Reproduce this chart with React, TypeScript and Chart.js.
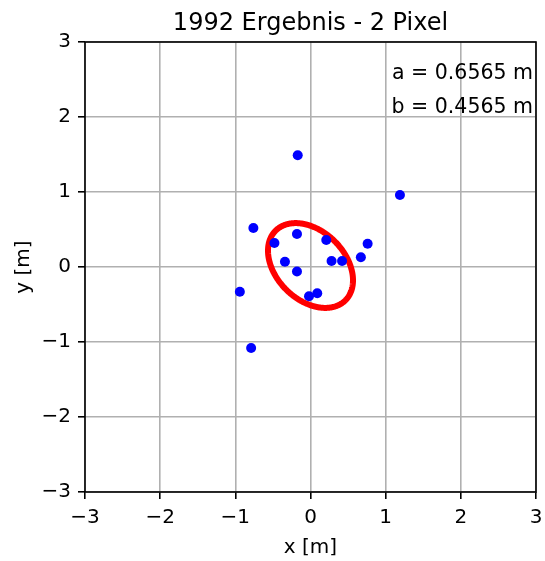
import React, { useEffect, useRef } from "react";
import { Chart, registerables } from "chart.js";

Chart.register(...registerables);

const TITLE = "1992 Ergebnis - 2 Pixel";
const X_LABEL = "x [m]";
const Y_LABEL = "y [m]";
const AXIS_MIN = -3;
const AXIS_MAX = 3;
const TICK_STEP = 1;

const pointsX = [-0.17, 1.19, -0.76, -0.18, -0.48, 0.21, 0.76, -0.34, 0.28, 0.42, 0.67, -0.18, -0.94, -0.02, 0.09, -0.79];
const pointsY = [1.49, 0.96, 0.52, 0.44, 0.32, 0.36, 0.31, 0.07, 0.08, 0.08, 0.13, -0.06, -0.33, -0.39, -0.35, -1.08];

const ELLIPSE_A = 0.6565;
const ELLIPSE_B = 0.4565;
const ELLIPSE_CENTER_X = 0.0;
const ELLIPSE_CENTER_Y = 0.02;
const ELLIPSE_ANGLE_DEG = -45;
const ELLIPSE_SAMPLES = 240;

const ANNOTATIONS = ["a = 0.6565 m", "b = 0.4565 m"];

const FONT = "'DejaVu Sans', sans-serif";

function ellipsePoints() {
  const th = (ELLIPSE_ANGLE_DEG * Math.PI) / 180;
  const pts: { x: number; y: number }[] = [];
  for (let i = 0; i <= ELLIPSE_SAMPLES; i++) {
    const t = (i / ELLIPSE_SAMPLES) * Math.PI * 2;
    const ex = ELLIPSE_A * Math.cos(t);
    const ey = ELLIPSE_B * Math.sin(t);
    pts.push({
      x: ELLIPSE_CENTER_X + ex * Math.cos(th) - ey * Math.sin(th),
      y: ELLIPSE_CENTER_Y + ex * Math.sin(th) + ey * Math.cos(th),
    });
  }
  return pts;
}

const minus = (v: number) => (v < 0 ? "\u2212" + Math.abs(v) : String(v));

const decor = {
  id: "decor",
  afterDraw(chart: any) {
    const ctx = chart.ctx as CanvasRenderingContext2D;
    const a = chart.chartArea;
    ctx.save();
    // frame
    ctx.strokeStyle = "#000";
    ctx.lineWidth = 1.6;
    ctx.strokeRect(a.left, a.top, a.right - a.left, a.bottom - a.top);
    ctx.fillStyle = "#000";
    // title
    ctx.font = `24px ${FONT}`;
    ctx.textAlign = "center";
    ctx.textBaseline = "alphabetic";
    ctx.fillText(TITLE, (a.left + a.right) / 2, 30);
    // x label
    ctx.font = `20px ${FONT}`;
    ctx.fillText(X_LABEL, (a.left + a.right) / 2, 553);
    // y label
    ctx.save();
    ctx.translate(29, (a.top + a.bottom) / 2);
    ctx.rotate(-Math.PI / 2);
    ctx.fillText(Y_LABEL, 0, 0);
    ctx.restore();
    // annotations
    ctx.textAlign = "right";
    ctx.font = `20.5px ${FONT}`;
    ctx.fillText(ANNOTATIONS[0], a.right - 3, 79);
    ctx.fillText(ANNOTATIONS[1], a.right - 3, 112.5);
    ctx.restore();
  },
};

export default function App() {
  const ref = useRef<HTMLCanvasElement | null>(null);
  useEffect(() => {
    const canvas = ref.current!;
    const scatter = pointsX.map((x, i) => ({ x, y: pointsY[i] }));
    const gridOpts = {
      color: "#b0b0b0",
      lineWidth: 1.6,
      tickColor: "#000",
      tickWidth: 1.6,
      tickLength: 7,
      drawTicks: true,
    };
    const chart = new Chart(canvas, {
      type: "scatter",
      data: {
        datasets: [
          {
            data: scatter,
            backgroundColor: "#0000ff",
            borderWidth: 0,
            pointRadius: 5,
            order: 0,
          },
          {
            data: ellipsePoints(),
            showLine: true,
            borderColor: "#ff0000",
            borderWidth: 6,
            borderJoinStyle: "round",
            pointRadius: 0,
            fill: false,
            tension: 0.1,
            order: 1,
          } as any,
        ],
      },
      options: {
        responsive: false,
        animation: false,
        layout: { autoPadding: false, padding: { top: 42, right: 9, left: 0, bottom: 0 } },
        plugins: { legend: { display: false }, tooltip: { enabled: false }, title: { display: false } },
        scales: {
          x: {
            type: "linear",
            min: AXIS_MIN,
            max: AXIS_MAX,
            grid: gridOpts,
            border: { display: false },
            ticks: {
              stepSize: TICK_STEP,
              padding: 7,
              color: "#000",
              font: { family: FONT, size: 20 },
              callback: (v: any) => minus(Number(v)),
              maxRotation: 0,
            },
            afterFit: (s: any) => {
              s.height = 69;
              s.paddingLeft = 0;
              s.paddingRight = 0;
            },
          },
          y: {
            type: "linear",
            min: AXIS_MIN,
            max: AXIS_MAX,
            grid: gridOpts,
            border: { display: false },
            ticks: {
              stepSize: TICK_STEP,
              padding: 7,
              color: "#000",
              font: { family: FONT, size: 20 },
              callback: (v: any) => minus(Number(v)),
            },
            afterFit: (s: any) => {
              s.width = 85;
              s.paddingTop = 0;
              s.paddingBottom = 0;
            },
          },
        },
      },
      plugins: [decor],
    });
    return () => chart.destroy();
  }, []);
  return (
    <div style={{ position: "fixed", left: 0, top: 0, width: 545, height: 561, background: "#fff" }}>
      <canvas ref={ref} width={545} height={561} style={{ display: "block" }} />
    </div>
  );
}
